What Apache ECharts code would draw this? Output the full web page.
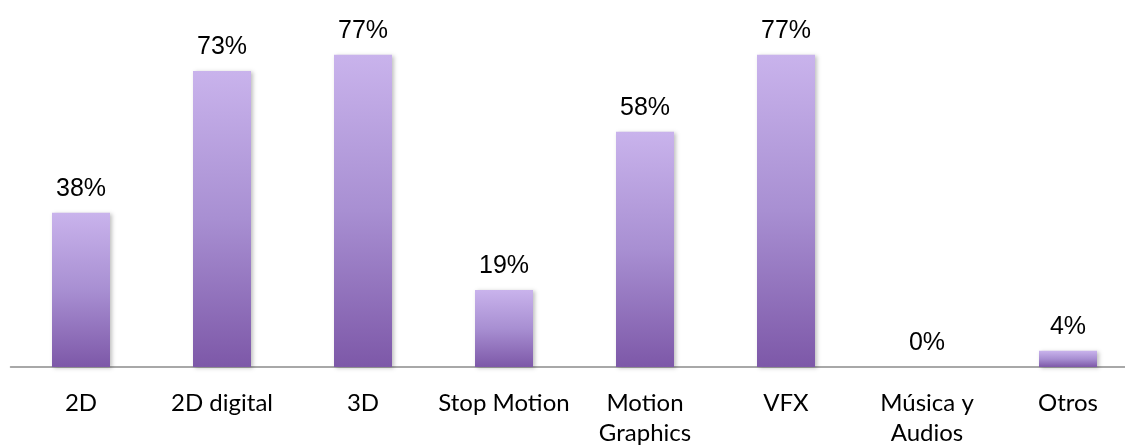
<!DOCTYPE html>
<html><head><meta charset="utf-8">
<script src="https://cdn.jsdelivr.net/npm/echarts@6/dist/echarts.min.js"></script>
<style>html,body{margin:0;padding:0;background:#fff;overflow:hidden;width:1125px;height:448px}#c{width:1140px;height:448px}</style>
</head><body><div id="c"></div>
<script>
const categories = ['2D', '2D digital', '3D', 'Stop Motion', 'Motion\nGraphics', 'VFX', 'Música y\nAudios', 'Otros'];
const values = [38, 73, 77, 19, 58, 77, 0, 4];

const chart = echarts.init(document.getElementById('c'), null, {renderer: 'canvas'});
chart.setOption({
  animation: false,
  grid: {left: 10.5, right: 1.5, top: 42.5, bottom: 77.5, containLabel: false},
  xAxis: {
    type: 'category', data: categories,
    axisLine: {lineStyle: {color: '#8c8c8c', width: 1.5}},
    axisTick: {show: false},
    axisLabel: {interval: 0, color: '#000', fontFamily: 'Lato', fontSize: 24, lineHeight: 30, margin: 21}
  },
  yAxis: {type: 'value', min: 0, max: 80, show: false, splitLine: {show: false}},
  series: [{
    type: 'bar', data: values, barWidth: 58,
    itemStyle: {
      color: new echarts.graphic.LinearGradient(0, 0, 0, 1, [
        {offset: 0, color: '#c9b3ec'},
        {offset: 0.5, color: '#a88fd2'},
        {offset: 1, color: '#7d58a8'}
      ]),
      shadowColor: 'rgba(0,0,0,0.25)', shadowBlur: 4, shadowOffsetX: 2, shadowOffsetY: 1
    },
    label: {show: true, position: 'top', distance: 11, formatter: '{c}%', color: '#000', fontFamily: 'Liberation Sans', fontSize: 25}
  }]
});
</script></body></html>
